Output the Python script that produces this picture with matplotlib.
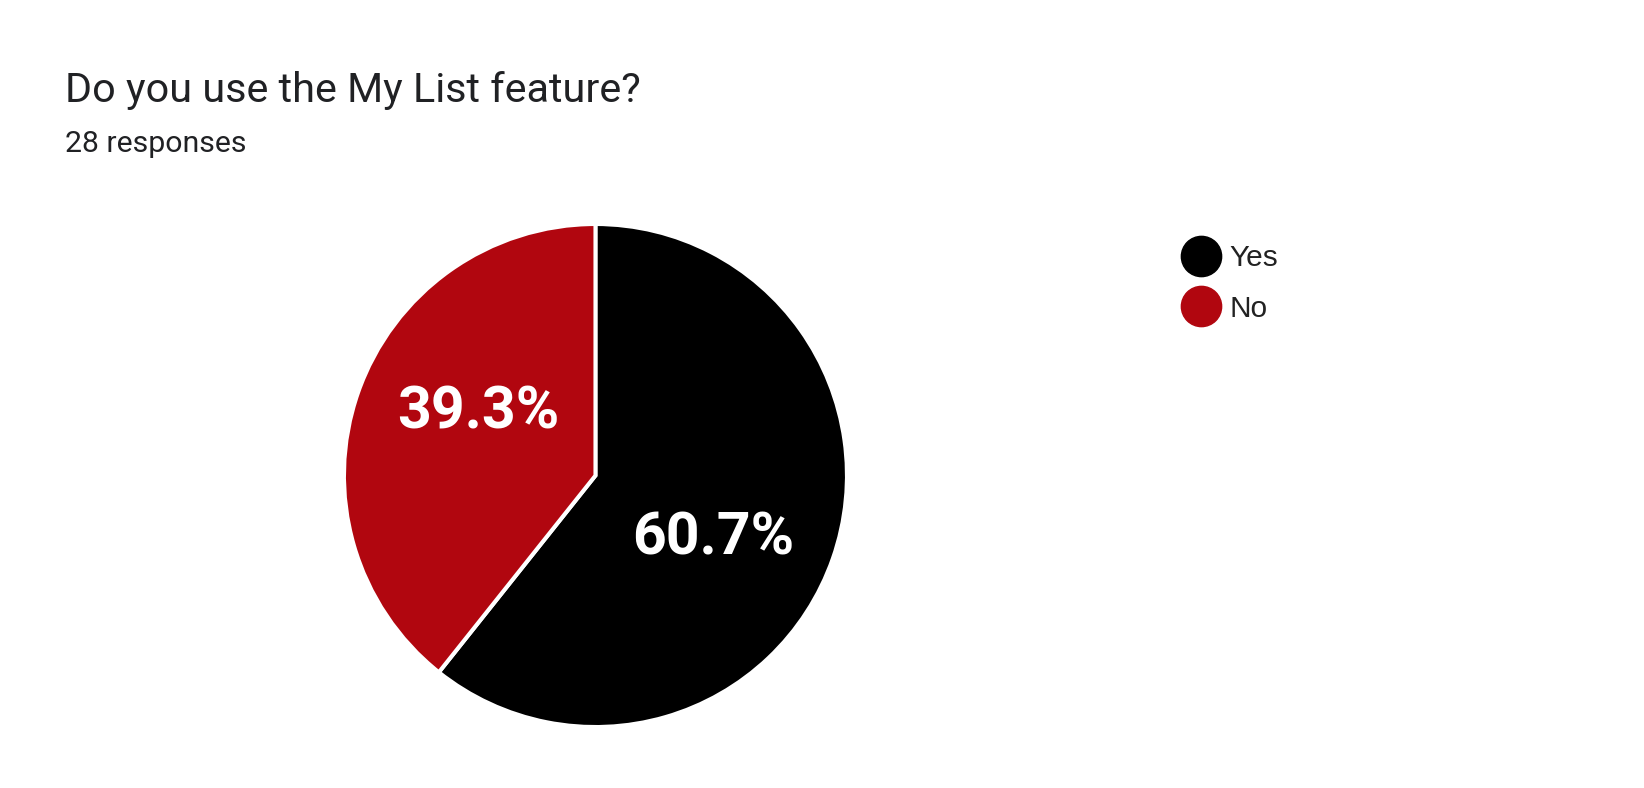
import numpy as np
import matplotlib.pyplot as plt
from matplotlib.lines import Line2D

title = 'Do you use the My List feature?'
subtitle = '28 responses'
labels = ['Yes', 'No']
shares = [60.7, 39.3]
colors = ['#000000', '#b1060f']

fig = plt.figure(figsize=(16.44, 7.88), dpi=100)
fig.patch.set_facecolor('white')

fig.text(65/1644, 1 - 102/788, title, fontsize=29.8, family='Roboto',
         color='#202124', va='baseline', ha='left')
fig.text(65/1644, 1 - 152/788, subtitle, fontsize=21.8, family='Roboto',
         color='#202124', va='baseline', ha='left')

ax = fig.add_axes([0.2092, 0.0774, 0.306, 0.6383])
wedges, texts, autotexts = ax.pie(shares, colors=colors, startangle=90,
                                  counterclock=False, radius=1,
                                  autopct='%1.1f%%', pctdistance=0.53,
                                  wedgeprops=dict(edgecolor='white', linewidth=2.9),
                                  textprops=dict(color='white', fontsize=42.5,
                                                 family='Roboto', weight='bold',
                                                 style='normal'))
# nudge labels a little clockwise, like the original layout
rot = np.deg2rad(-9)
for t in autotexts:
    x, y = t.get_position()
    t.set_position((x*np.cos(rot) - y*np.sin(rot), x*np.sin(rot) + y*np.cos(rot)))
ax.set_xlim(-1, 1)
ax.set_ylim(-1, 1)

handles = [Line2D([], [], marker='o', linestyle='none', markersize=29,
                  markerfacecolor=c, markeredgecolor=c) for c in colors]
fig.legend(handles, labels, loc='upper left', bbox_to_anchor=(0.7176, 0.690),
           frameon=False, borderpad=0, borderaxespad=0, handlelength=1.4,
           handletextpad=0.25, labelspacing=0.75,
           prop=dict(family='Liberation Sans', size=21.5), labelcolor='#222222')

plt.savefig('out.png', dpi=100)
